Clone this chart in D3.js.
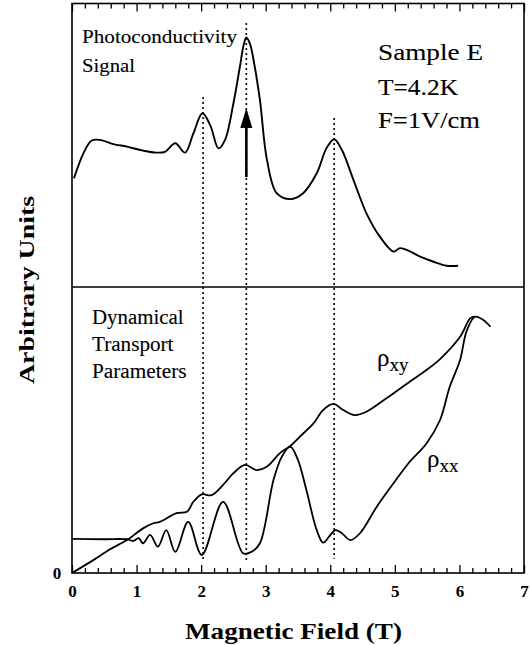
<!DOCTYPE html>
<html>
<head>
<meta charset="utf-8">
<script src="https://cdn.jsdelivr.net/npm/d3@7"></script>
<style>
html,body{margin:0;padding:0;background:#fff;}
svg{display:block;}
</style>
</head>
<body>
<svg id="chart" width="530" height="645"></svg>
<script>
// Magnetic field values (T) and signal (arbitrary units, 0-10 panel scale)
const pcField = [0.03,0.18,0.30,0.43,0.64,0.85,1.10,1.31,1.44,1.60,1.75,1.88,2.02,2.14,2.27,2.37,2.50,2.60,2.66,2.70,2.76,2.82,2.91,3.02,3.17,3.38,3.58,3.79,3.94,4.06,4.18,4.36,4.56,4.77,4.98,5.08,5.21,5.39,5.60,5.80,5.98];
const pcSignal = [3.83,4.73,5.16,5.19,5.04,4.95,4.81,4.74,4.77,5.07,4.74,5.42,6.13,5.71,4.89,5.19,6.48,7.77,8.55,8.80,8.55,7.90,6.60,4.48,3.31,3.10,3.31,4.01,4.89,5.21,4.83,3.77,2.60,1.77,1.25,1.37,1.28,1.07,0.89,0.75,0.75];

const rxxField = [0.00,0.50,0.85,0.95,1.03,1.10,1.21,1.33,1.46,1.60,1.80,2.01,2.34,2.65,2.78,2.91,3.12,3.25,3.38,3.50,3.63,3.79,3.89,3.99,4.08,4.18,4.31,4.46,4.72,4.98,5.23,5.49,5.70,5.85,6.01,6.11,6.24,6.37,6.48];
const rxxValue = [1.19,1.18,1.18,1.12,1.22,1.04,1.33,0.92,1.50,0.74,1.79,0.63,2.49,0.69,0.74,1.04,3.25,4.07,4.42,3.95,2.90,1.50,1.06,1.30,1.50,1.39,1.15,1.39,2.32,3.14,3.89,4.53,5.35,6.51,7.45,8.45,8.96,8.85,8.61];

const rxyField = [0.00,0.33,0.59,0.85,1.10,1.26,1.36,1.62,1.78,1.88,2.01,2.16,2.34,2.50,2.68,2.86,3.02,3.22,3.38,3.53,3.74,3.89,4.05,4.20,4.38,4.56,4.87,5.23,5.49,5.70,6.01,6.17,6.24];
const rxyValue = [0.00,0.45,0.83,1.15,1.56,1.74,1.79,2.09,2.14,2.49,2.75,2.72,3.08,3.49,3.78,3.60,3.72,4.19,4.44,4.77,5.23,5.70,5.91,5.70,5.52,5.64,6.11,6.69,7.10,7.48,8.26,8.91,8.96];

// Dotted guide lines: field, top end (upper panel units), bottom end (lower panel units)
const guideField = [2.03, 2.70, 4.06];
const guideTop = [6.70, 9.31, 5.96];
const guideBottom = [0.45, 0.38, 0.50];

// Arrow at resonance: field, from/to (upper panel units)
const arrowField = 2.70, arrowFrom = 3.88, arrowTo = 6.31;

const xTickLabels = ["0","1","2","3","4","5","6","7"];

const SERIF = '"Liberation Serif","Times New Roman",Tinos,serif';

const svg = d3.select("#chart");
const x = d3.scaleLinear().domain([0,7]).range([72,524]);
const yTop = d3.scaleLinear().domain([0,10]).range([287,3.5]);
const yBot = d3.scaleLinear().domain([0,10]).range([573,287]);

// Frame
svg.append("rect").attr("x",x(0)).attr("y",yTop(10)).attr("width",x(7)-x(0)).attr("height",yBot(0)-yTop(10))
  .attr("fill","none").attr("stroke","#000").attr("stroke-width",1.6);
svg.append("line").attr("x1",x(0)).attr("x2",x(7)).attr("y1",yBot(10)).attr("y2",yBot(10))
  .attr("stroke","#000").attr("stroke-width",1.6);

// Ticks (inward) bottom and top
const minorVals = d3.range(0,71,2).map(d=>d/10).filter(d=>Math.abs(d-Math.round(d))>1e-6);
const majorVals = d3.range(0,8);
function styleAxis(g){ g.select(".domain").remove(); g.selectAll("line").attr("stroke","#000").attr("stroke-width",1.3); }
svg.append("g").attr("transform",`translate(0,${yBot(0)})`).call(d3.axisBottom(x).tickValues(minorVals).tickSize(-5).tickFormat("")).call(styleAxis);
svg.append("g").attr("transform",`translate(0,${yTop(10)})`).call(d3.axisTop(x).tickValues(minorVals).tickSize(-5).tickFormat("")).call(styleAxis);
svg.append("g").attr("transform",`translate(0,${yTop(10)})`).call(d3.axisTop(x).tickValues(majorVals).tickSize(-8).tickFormat("")).call(styleAxis);
const xAx = svg.append("g").attr("transform",`translate(0,${yBot(0)})`)
  .call(d3.axisBottom(x).tickValues(majorVals).tickSize(-8).tickFormat(d=>xTickLabels[d])).call(styleAxis);
xAx.attr("font-family",null).attr("font-size",null);
xAx.selectAll("text").attr("y",24).attr("dy",null)
  .attr("font-family",SERIF).attr("font-weight","bold").attr("font-size",17).attr("fill","#000");

// Texts
function txt(s,xp,yp,size,len,weight){
  const t = svg.append("text").attr("x",xp).attr("y",yp)
    .attr("font-family",SERIF).attr("font-size",size).attr("fill","#000").text(s);
  if(weight) t.attr("font-weight",weight);
  else t.attr("stroke","#000").attr("stroke-width",0.12);
  if(len) t.attr("textLength",len).attr("lengthAdjust","spacingAndGlyphs");
  return t;
}

// y "0" label
txt("0",x(0)-15,yBot(0)+6,17,null,"bold").attr("text-anchor","middle");

// Dotted guides
guideField.forEach((f,i)=>{
  svg.append("line").attr("x1",x(f)).attr("x2",x(f)).attr("y1",yTop(guideTop[i])).attr("y2",yBot(guideBottom[i]))
    .attr("stroke","#000").attr("stroke-width",1.6).attr("stroke-dasharray","2,3");
});

const line = d3.line().curve(d3.curveCatmullRom.alpha(0.5));
svg.append("path").attr("d",line(pcField.map((f,i)=>[x(f),yTop(pcSignal[i])])))
  .attr("fill","none").attr("stroke","#000").attr("stroke-width",1.9);
svg.append("path").attr("d",line(rxxField.map((f,i)=>[x(f),yBot(rxxValue[i])])))
  .attr("fill","none").attr("stroke","#000").attr("stroke-width",1.8);
svg.append("path").attr("d",line(rxyField.map((f,i)=>[x(f),yBot(rxyValue[i])])))
  .attr("fill","none").attr("stroke","#000").attr("stroke-width",1.8);

// Arrow
const ax = x(arrowField), ay0 = yTop(arrowFrom), ay1 = yTop(arrowTo);
svg.append("line").attr("x1",ax).attr("x2",ax).attr("y1",ay0).attr("y2",ay1+16)
  .attr("stroke","#000").attr("stroke-width",2.6);
svg.append("path").attr("d",`M${ax},${ay1} L${ax-6},${ay1+20} L${ax+6},${ay1+20} Z`).attr("fill","#000");

txt("Photoconductivity",82,43,19.5,155);
txt("Signal",82,71.5,19.5,53);
txt("Sample E",378,60,22.5,105);
txt("T=4.2K",378,95,22.5,80);
txt("F=1V/cm",378,128,22.5,102);
txt("Dynamical",92,324,20.5,91.5);
txt("Transport",92,351,20.5,81.5);
txt("Parameters",92,377.5,20.5,94.5);

// rho labels
function rho(xp,yp,sub){
  const t = txt("",xp,yp,25);
  t.append("tspan").text("ρ");
  t.append("tspan").attr("dy",5).attr("font-size",19).text(sub);
}
rho(377,366,"xy");
rho(427,467,"xx");

// Axis titles
txt("Magnetic Field (T)",185,639,23.5,217,"bold");
svg.append("text").attr("transform","translate(34,290) rotate(-90)").attr("text-anchor","middle")
  .attr("font-family",SERIF).attr("font-size",20).attr("font-weight","bold").attr("fill","#000")
  .attr("textLength",188).attr("lengthAdjust","spacingAndGlyphs")
  .text("Arbitrary Units");
</script>
</body>
</html>
